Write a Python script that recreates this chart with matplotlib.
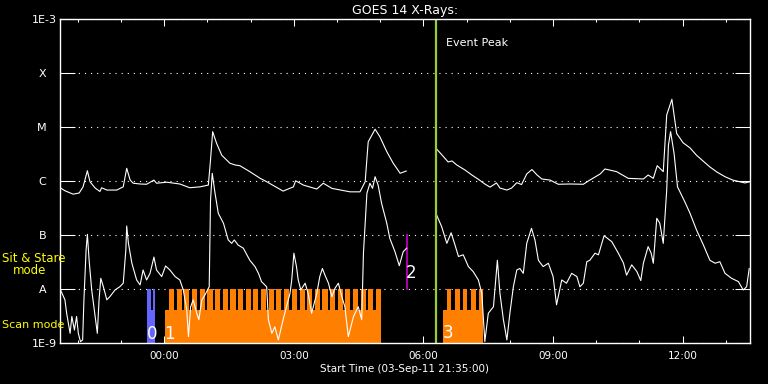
import numpy as np
import matplotlib
matplotlib.use('Agg')
import matplotlib.pyplot as plt
from matplotlib.ticker import FixedLocator, MultipleLocator, NullLocator

nan = np.nan

# GOES 14 long channel (1-8 A): hours after start, flux in W/m^2
long_t = [-2.41, -2.30, -2.11, -1.97, -1.88, -1.78, -1.72, -1.60, -1.49, -1.45,
          -1.33, -1.10, -0.95, -0.87, -0.79, -0.72, -0.56, -0.41, -0.24, -0.18,
          0.06, 0.36, 0.59, 0.83, 1.02, 1.07, 1.12, 1.21, 1.33, 1.52,
          1.64, 1.75, 1.98, 2.22, 2.37, 2.75, 2.99, 3.04, 3.22, 3.53,
          3.68, 3.88, 4.30, 4.53, 4.65, 4.72, 4.88, 4.99, 5.15, 5.30,
          5.46, 5.60, 5.95,
          6.31, 6.45, 6.57, 6.66, 6.77, 6.96, 7.12, 7.26, 7.42, 7.54,
          7.69, 7.77, 7.93, 8.04, 8.16, 8.27, 8.39, 8.51, 8.63, 8.74,
          8.93, 9.12, 9.39, 9.70, 9.85, 10.09, 10.20, 10.47, 10.74, 11.09,
          11.20, 11.32, 11.41, 11.55, 11.63, 11.75, 11.86, 12.01, 12.17, 12.32,
          12.47, 12.63, 12.79, 12.98, 13.16, 13.44, 13.56]
long_flux = [7.5e-7, 6.6e-7, 5.7e-7, 6.0e-7, 7.8e-7, 1.55e-6, 9.7e-7, 7.4e-7, 6.4e-7, 7.5e-7,
             6.8e-7, 6.8e-7, 7.8e-7, 1.72e-6, 1.04e-6, 9.1e-7, 8.8e-7, 8.7e-7, 1.04e-6, 9.1e-7,
             9.5e-7, 8.8e-7, 7.5e-7, 7.8e-7, 8.4e-7, 2.45e-6, 8.2e-6, 5.0e-6, 3.0e-6, 2.13e-6,
             1.98e-6, 1.92e-6, 1.49e-6, 1.12e-6, 9.7e-7, 6.5e-7, 7.8e-7, 1.01e-6, 8.4e-7, 7.1e-7,
             9.1e-7, 7.3e-7, 6.3e-7, 6.3e-7, 9.7e-7, 5.3e-6, 9.1e-6, 6.6e-6, 3.5e-6, 2.13e-6,
             1.39e-6, 1.53e-6, nan,
             3.86e-6, 2.90e-6, 2.25e-6, 2.35e-6, 1.98e-6, 1.60e-6, 1.29e-6, 1.09e-6, 8.8e-7, 7.7e-7,
             9.2e-7, 7.4e-7, 6.8e-7, 7.4e-7, 9.3e-7, 8.6e-7, 1.35e-6, 1.63e-6, 1.29e-6, 1.09e-6,
             1.04e-6, 8.7e-7, 8.8e-7, 8.7e-7, 1.04e-6, 1.35e-6, 1.67e-6, 1.49e-6, 1.12e-6, 1.09e-6,
             1.29e-6, 1.12e-6, 1.92e-6, 1.49e-6, 1.67e-5, 3.26e-5, 7.6e-6, 5.1e-6, 4.1e-6, 3.0e-6,
             2.35e-6, 1.82e-6, 1.47e-6, 1.20e-6, 1.04e-6, 9.2e-7, 9.7e-7]

# GOES 14 short channel (0.5-4 A)
short_t = [-2.41, -2.30, -2.26, -2.18, -2.14, -2.08, -2.03, -1.99, -1.94, -1.89,
           -1.86, -1.81, -1.78, -1.74, -1.68, -1.60, -1.55, -1.51, -1.47, -1.41,
           -1.33, -1.26, -1.14, -1.03, -0.95, -0.89, -0.87, -0.83, -0.75, -0.64,
           -0.56, -0.49, -0.41, -0.33, -0.24, -0.18, -0.06, 0.03, 0.13, 0.25,
           0.36, 0.44, 0.52, 0.56, 0.61, 0.67, 0.75, 0.80, 0.87, 0.94,
           1.00, 1.04, 1.07, 1.11, 1.17, 1.25, 1.37, 1.48, 1.56, 1.62,
           1.71, 1.83, 1.98, 2.10, 2.18, 2.25, 2.37, 2.41, 2.49, 2.56,
           2.64, 2.75, 2.83, 2.91, 2.95, 3.00, 3.06, 3.10, 3.16, 3.26,
           3.33, 3.41, 3.53, 3.60, 3.66, 3.72, 3.80, 3.88, 3.95, 4.03,
           4.11, 4.18, 4.26, 4.38, 4.49, 4.57, 4.61, 4.69, 4.76, 4.82,
           4.88, 4.95, 5.03, 5.15, 5.22, 5.34, 5.44, 5.53, 5.61, 5.95,
           6.31, 6.42, 6.54, 6.64, 6.73, 6.81, 6.92, 7.04, 7.15, 7.27,
           7.35, 7.42, 7.50, 7.62, 7.71, 7.77, 7.85, 7.93, 8.00, 8.08,
           8.16, 8.23, 8.31, 8.39, 8.50, 8.58, 8.66, 8.77, 8.89, 9.00,
           9.08, 9.20, 9.31, 9.43, 9.55, 9.62, 9.70, 9.78, 9.85, 9.97,
           10.05, 10.18, 10.36, 10.51, 10.63, 10.70, 10.82, 10.94, 11.03, 11.09,
           11.20, 11.27, 11.32, 11.40, 11.47, 11.55, 11.63, 11.67, 11.72, 11.80,
           11.88, 12.05, 12.17, 12.32, 12.48, 12.63, 12.75, 12.86, 12.98, 13.13,
           13.29, 13.40, 13.48, 13.54]
short_flux = [9.9e-9, 6.3e-9, 3.55e-9, 1.51e-9, 3.1e-9, 1.74e-9, 3.1e-9, 1.51e-9, 1.06e-9, 1.14e-9,
              6.3e-9, 5.3e-8, 1.03e-7, 3.4e-8, 9.6e-9, 3.1e-9, 1.51e-9, 6.3e-9, 1.58e-8, 1.10e-8,
              6.3e-9, 7.2e-9, 9.6e-9, 1.10e-8, 1.28e-8, 5.3e-8, 1.47e-7, 7.0e-8, 3.0e-8, 1.47e-8,
              1.19e-8, 2.25e-8, 1.47e-8, 1.95e-8, 3.9e-8, 2.25e-8, 1.7e-8, 2.67e-8, 2.25e-8, 1.7e-8,
              1.47e-8, 9.6e-9, 4.1e-9, 1.31e-9, 4.7e-9, 6.3e-9, 3.55e-9, 2.7e-9, 6.3e-9, 7.7e-9,
              9.6e-9, 1.10e-8, 4.4e-7, 1.39e-6, 6.3e-7, 2.52e-7, 1.65e-7, 8.1e-8, 7.0e-8, 8.1e-8,
              6.5e-8, 5.7e-8, 3.4e-8, 2.6e-8, 1.95e-8, 1.37e-8, 1.10e-8, 2.7e-9, 1.51e-9, 2.0e-9,
              1.14e-9, 2.7e-9, 4.7e-9, 8.3e-9, 1.47e-8, 4.6e-8, 2.6e-8, 1.47e-8, 9.6e-9, 1.28e-8,
              8.3e-9, 3.55e-9, 8.3e-9, 1.7e-8, 2.4e-8, 1.8e-8, 1.28e-8, 7.2e-9, 1.03e-8, 1.28e-8,
              7.2e-9, 4.7e-9, 1.31e-9, 3.1e-9, 4.7e-9, 2.7e-9, 4.6e-8, 5.9e-7, 9.1e-7, 7.3e-7,
              1.20e-6, 8.4e-7, 3.86e-7, 1.65e-7, 8.7e-8, 4.9e-8, 2.7e-8, 4.9e-8, 5.7e-8, nan,
              2.28e-7, 1.43e-7, 7.0e-8, 1.10e-7, 6.5e-8, 4.0e-8, 4.3e-8, 2.6e-8, 2.1e-8, 1.47e-8,
              8.3e-9, 1.06e-9, 3.55e-9, 4.7e-9, 3.4e-8, 8.3e-9, 2.7e-9, 1.14e-9, 3.55e-9, 1.10e-8,
              2.25e-8, 2.4e-8, 1.95e-8, 7.0e-8, 1.33e-7, 8.1e-8, 3.4e-8, 2.6e-8, 3.0e-8, 1.7e-8,
              5.1e-9, 1.47e-8, 1.28e-8, 1.95e-8, 1.7e-8, 1.10e-8, 1.28e-8, 3.2e-8, 3.4e-8, 4.6e-8,
              4.3e-8, 9.7e-8, 7.5e-8, 4.6e-8, 3.0e-8, 1.8e-8, 2.8e-8, 2.1e-8, 1.43e-8, 3.0e-8,
              6.1e-8, 4.6e-8, 3.0e-8, 2.04e-7, 1.65e-7, 7.0e-8, 6.8e-7, 4.64e-6, 8.2e-6, 3.26e-6,
              7.8e-7, 4.1e-7, 2.52e-7, 1.24e-7, 6.5e-8, 3.4e-8, 3.0e-8, 3.2e-8, 1.95e-8, 1.58e-8,
              1.37e-8, 9.6e-9, 1.10e-8, 2.4e-8]

# observation blocks (hours after start)
obs0_start, obs0_end = -0.40, -0.215
obs0_teeth_start = [-0.40, -0.26]
obs0_teeth_end = [-0.31, -0.215]
scan_start = [0.016, 6.444]
scan_end = [5.016, 7.370]
obs1_teeth = [0.11, 0.29, 0.46, 0.64, 0.82, 1.00, 1.17, 1.35, 1.53, 1.71,
              1.88, 2.06, 2.24, 2.42, 2.59, 2.77, 2.95, 3.13, 3.30, 3.48,
              3.66, 3.84, 4.01, 4.19, 4.37, 4.55, 4.72, 4.90]
obs1_tooth_width = 0.12
obs3_teeth = [6.55, 6.74, 6.92, 7.11, 7.28]
obs3_tooth_width = 0.095
stare_time = 5.61
event_peak = 6.28

mode_floor = 1e-9
raster_base = 4.1e-9
scan_level = 1e-8
stare_level = 1e-7

obs_labels = ['0', '1', '2', '3']
obs_label_t = [-0.29, 0.125, 5.72, 6.57]
obs_label_flux = [1.45e-9, 1.45e-9, 2.0e-8, 1.5e-9]

class_flux = [1e-9, 1e-8, 1e-7, 1e-6, 1e-5, 1e-4, 1e-3]
class_names = ['1E-9', 'A   ', 'B   ', 'C   ', 'M   ', 'X   ', '1E-3']
hour_ticks = [0, 3, 6, 9, 12]
hour_labels = ['00:00', '03:00', '06:00', '09:00', '12:00']

orange = '#ff8000'
blue = '#6464ff'

fig = plt.figure(figsize=(7.68, 3.84), dpi=100, facecolor='black')
ax = fig.add_axes([60 / 768, 41 / 384, 690 / 768, 324 / 384], facecolor='black')
ax.set_yscale('log')

# observation bars
bar_kw = dict(align='edge', linewidth=0, antialiased=False)
ax.bar(obs0_start, raster_base - mode_floor, width=obs0_end - obs0_start, bottom=mode_floor,
       color=blue, **bar_kw)
ax.bar(obs0_teeth_start, scan_level - mode_floor,
       width=np.array(obs0_teeth_end) - np.array(obs0_teeth_start),
       bottom=mode_floor, color=blue, **bar_kw)
ax.bar(scan_start, raster_base - mode_floor, width=np.array(scan_end) - np.array(scan_start),
       bottom=mode_floor, color=orange, **bar_kw)
ax.bar(obs1_teeth, scan_level - mode_floor, width=obs1_tooth_width, bottom=mode_floor,
       color=orange, **bar_kw)
ax.bar(obs3_teeth, scan_level - mode_floor, width=obs3_tooth_width, bottom=mode_floor,
       color=orange, **bar_kw)
ax.plot([stare_time, stare_time], [scan_level, stare_level], color='#cc00cc', lw=1.2)

for lab, t, f in zip(obs_labels, obs_label_t, obs_label_flux):
    ax.text(t, f, lab, color='white', fontsize=12, ha='center', va='center')

# x-ray curves
ax.plot(long_t, long_flux, color='white', lw=0.8)
ax.plot(short_t, short_flux, color='white', lw=0.8)

ax.axvline(event_peak, color='#9acd32', lw=1.6)
ax.annotate('Event Peak', xy=(event_peak, 3.6e-4), xytext=(7.5, 0), textcoords='offset points',
            color='white', fontsize=8, va='center', ha='left')

ax.set_xlim(-2.414, 13.558)
ax.set_ylim(1e-9, 1e-3)

ax.yaxis.set_major_locator(FixedLocator(class_flux))
ax.yaxis.set_minor_locator(NullLocator())
ax.set_yticklabels(class_names)
ax.xaxis.set_major_locator(FixedLocator(hour_ticks))
ax.xaxis.set_minor_locator(MultipleLocator(1))
ax.set_xticklabels(hour_labels)

ax.grid(axis='y', which='major', color='white', linestyle=(0, (1, 4.5)), linewidth=0.8)
ax.set_axisbelow(True)

ax.tick_params(axis='y', which='major', direction='in', length=10.8, width=0.75,
               left=True, right=True, colors='white', labelsize=8, pad=2)
ax.tick_params(axis='x', which='major', direction='in', length=4.7, width=0.75,
               top=True, bottom=True, colors='white', labelsize=7.5, pad=6)
ax.tick_params(axis='x', which='minor', direction='in', length=2.5, width=0.75,
               top=True, bottom=True, colors='white')
for s in ax.spines.values():
    s.set_color('white')
    s.set_linewidth(1)

ax.set_title('GOES 14 X-Rays:', color='white', fontsize=9, pad=3.5)
ax.set_xlabel('Start Time (03-Sep-11 21:35:00)', color='white', fontsize=7.5, labelpad=2)

fig.text(2 / 768, 1 - 259 / 384, 'Sit & Stare', color='yellow', fontsize=8.5, va='center', ha='left')
fig.text(13 / 768, 1 - 271 / 384, 'mode', color='yellow', fontsize=8.5, va='center', ha='left')
fig.text(2 / 768, 1 - 324.5 / 384, 'Scan mode', color='yellow', fontsize=8, va='center', ha='left')

fig.savefig('out.png', dpi=100, facecolor='black')
